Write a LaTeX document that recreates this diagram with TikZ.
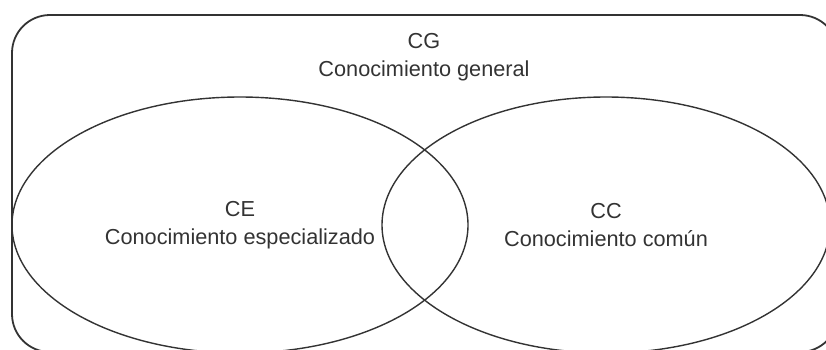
\documentclass[tikz,border=0pt]{standalone}
\usepackage{fontspec}
\setmainfont{Liberation Sans}
\usetikzlibrary{shapes.geometric}
\definecolor{linegray}{HTML}{333333}

\begin{document}
\begin{tikzpicture}[x=1pt, y=-1pt, line width=1.4pt,
	every node/.style={font=\fontsize{21.7}{28}\selectfont, align=center, text=black!80},
	conjunto/.style={draw=linegray, ellipse, inner sep=0pt}]
	        \useasboundingbox (0,0) rectangle (826,349);
	        \clip (0,0) rectangle (826,349);
		    \node[draw=linegray, line width=1.8pt, rounded corners=38pt, minimum width=826pt, minimum height=337pt] (CG) at (425,183.5) {};
		    \node (CGtext) at (424,57) {CG\\Conocimiento general};
		    \node[conjunto, minimum width=456pt, minimum height=256pt] (CE) at (240,225) {CE\\Conocimiento especializado};
		    \node[conjunto, minimum width=448pt, minimum height=256pt] (CC) at (606,225) {CC\\Conocimiento común};
        \end{tikzpicture}
\end{document}
